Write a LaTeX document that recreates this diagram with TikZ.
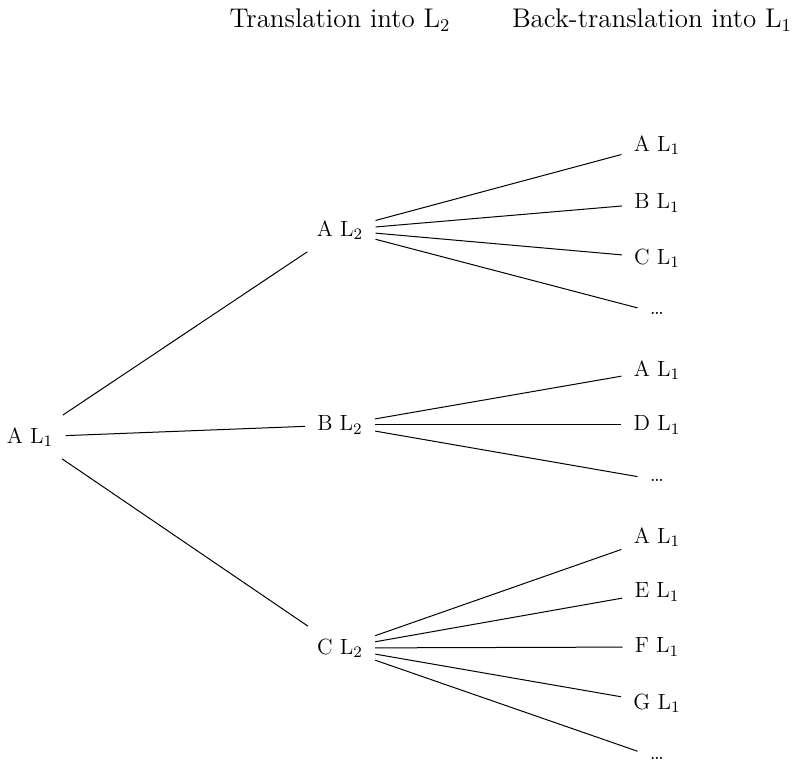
\documentclass[tikz,border=0pt]{standalone}
\usetikzlibrary{positioning}

\begin{document}
\begin{tikzpicture}[x=0.5pt, y=-0.5pt
    , every node/.style={inner sep=6pt, font=\fontsize{11}{13}\selectfont}
    , head/.style={inner sep=0pt, font=\fontsize{13.5}{16}\selectfont}
    , link/.style={draw=black, line width=0.5pt}
    ]

    \useasboundingbox (0,0) rectangle (800,769);

    %% column headings
    \node[head] (hdtr) at (340,20) {Translation into L$_2$};
    \node[head] (hdbk) at (652,20) {Back-translation into L$_1$};

    % source sentence
    \node[] (root) at (30,437) {A L$_1$};

    % translations into L2
    \node[] (al2) at (340,230) {A L$_2$};
    \node[] (bl2) at (340,425) {B L$_2$};
    \node[] (cl2) at (340,648) {C L$_2$};

    % back-translations of A L2
    \node[] (aa) at (657,145) {A L$_1$};
    \node[] (ab) at (657,203) {B L$_1$};
    \node[] (ac) at (657,258) {C L$_1$};
    \node[] (ad) at (657,313) {\dots};

    % back-translations of B L2
    \node[] (ba) at (657,370) {A L$_1$};
    \node[] (bd) at (657,425) {D L$_1$};
    \node[] (bx) at (657,480) {\dots};

    % back-translations of C L2
    \node[] (ca) at (657,537) {A L$_1$};
    \node[] (ce) at (657,592) {E L$_1$};
    \node[] (cf) at (657,647) {F L$_1$};
    \node[] (cg) at (657,703) {G L$_1$};
    \node[] (cx) at (657,758) {\dots};

    %% Here we go.
    \foreach \mid in {al2,bl2,cl2}
        \draw[link] (root) -- (\mid);
    \foreach \leaf in {aa,ab,ac,ad}
        \draw[link] (al2) -- (\leaf);
    \foreach \leaf in {ba,bd,bx}
        \draw[link] (bl2) -- (\leaf);
    \foreach \leaf in {ca,ce,cf,cg,cx}
        \draw[link] (cl2) -- (\leaf);

\end{tikzpicture}
\end{document}
